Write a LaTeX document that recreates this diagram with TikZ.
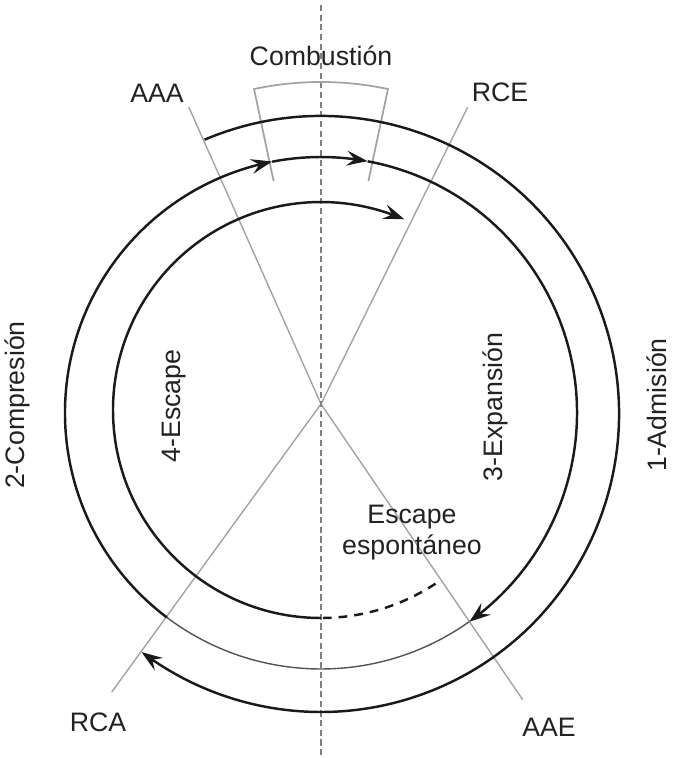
\documentclass[tikz,border=0pt]{standalone}
\usepackage{fontspec}
\setmainfont{Liberation Sans}
\usetikzlibrary{arrows.meta,bending,positioning}
\definecolor{ringInk}{HTML}{1A1A1A}
\definecolor{guideGray}{HTML}{A3A3A3}
\definecolor{textInk}{HTML}{222222}
\begin{document}
\begin{tikzpicture}[x=0.02cm, y=0.02cm,
    ring/.style={draw=ringInk, line width=1.4pt},
    thinring/.style={draw=ringInk!75, line width=0.8pt},
    guide/.style={draw=guideGray, line width=0.8pt},
    axisline/.style={draw=gray, line width=0.7pt, dash pattern=on 3.5pt off 2pt},
    arr/.style={-{Stealth[length=12pt, width=8.5pt, inset=4.5pt, bend]}},
    lbl/.style={font=\fontsize{15.2}{17.6}\selectfont, text=textInk, inner sep=0pt}
]
\useasboundingbox (-321,-354) rectangle (352,404);

% centres
\coordinate (O) at (0,0);
\coordinate (cOut) at (0,-10);
\coordinate (cMid) at (0,-9);
\coordinate (cIn) at (0,-6);

% valve timing lines
\coordinate (pAAA) at (114:325);
\coordinate (pRCE) at (63.7:331);
\coordinate (pAAE) at (-55.7:358);
\coordinate (pRCA) at (234:356);
\draw[guide] (O) -- (pAAA);
\draw[guide] (O) -- (pRCE);
\draw[guide] (O) -- (pAAE);
\draw[guide] (O) -- (pRCA);

% vertical axis
\coordinate (axTop) at (0,399);
\coordinate (axBot) at (0,-354);
\draw[axisline] (axTop) -- (axBot);

% combustion bracket
\draw[guide, line width=1pt] (102:228) -- (102:322) arc[start angle=102, end angle=78, radius=322] -- (78:228);

% 1-Admision (outer)
\draw[ring, arr] (cOut) ++(113:298) arc[start angle=113, end angle=-127, radius=298];

% 2-Compresion, 3-Expansion (middle)
\draw[ring, arr] (cMid) ++(233:256) arc[start angle=233, end angle=101, radius=256];
\draw[ring, arr] (cMid) ++(101:256) arc[start angle=101, end angle=79.5, radius=256];
\draw[ring, arr] (cMid) ++(79.5:256) arc[start angle=79.5, end angle=-54.6, radius=256];
\draw[thinring] (cMid) ++(-54.6:256) arc[start angle=-54.6, end angle=-127, radius=256];

% 4-Escape (inner)
\draw[ring, dash pattern=on 5pt off 4pt] (cIn) ++(-56.6:208) arc[start angle=-56.6, end angle=-90, radius=208];
\draw[ring, arr] (cIn) ++(270:208) arc[start angle=270, end angle=66.4, radius=208];

% labels
\node[lbl] (comb) at (0,348) {Combustión};
\node[lbl] (lAAA) at (-164,311) {AAA};
\node[lbl] (lRCE) at (179,312) {RCE};
\node[lbl] (lRCA) at (-223,-318) {RCA};
\node[lbl] (lAAE) at (228,-323) {AAE};
\node[lbl, rotate=90] (adm) at (336,-1) {1-Admisión};
\node[lbl, rotate=90] (comp) at (-304,-1) {2-Compresión};
\node[lbl, rotate=90] (exp) at (174,-3) {3-Expansión};
\node[lbl, rotate=90] (esc) at (-147,-2) {4-Escape};
\node[lbl, align=center] (espont) at (91,-129) {Escape\\espontáneo};
\end{tikzpicture}
\end{document}
